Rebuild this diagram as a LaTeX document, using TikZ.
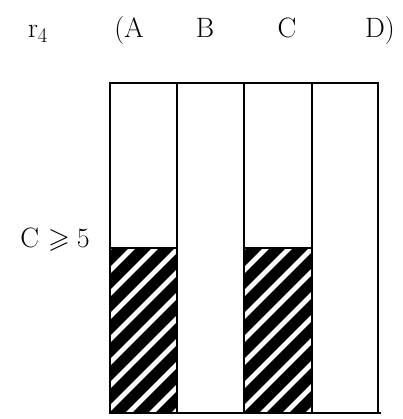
\documentclass[tikz,border=0pt]{standalone}
\usepackage{amssymb}
\begin{document}
\begin{tikzpicture}[x=1pt,y=-1pt,
  lbl/.style={inner sep=0pt,anchor=base,font=\fontsize{28}{32}\selectfont},
  frame/.style={line width=2.4pt,line cap=rect},
  hatch/.style={line width=11pt}]
\useasboundingbox (0,0) rectangle (402,419);
% header labels
\node[lbl] (r) at (38,38) {r$_4$};
\node[lbl] (a) at (129,38) {(A};
\node[lbl] (b) at (205,38) {B};
\node[lbl] (c) at (287,38) {C};
\node[lbl] (d) at (380,38) {D)};
\node[lbl] (cond) at (55,247) {C\hspace{9pt}$\geqslant$\hspace{7pt}5};
% hatched fills
\foreach \xl/\xr in {110/177,244/312}{
  \begin{scope}
    \clip (\xl,248) rectangle (\xr,413);
    \foreach \k in {-10,...,6}
      \draw[hatch] (\xl+\k*23,420) -- ++(220,-220);
  \end{scope}
  \draw[frame] (\xl,248) -- (\xr,248);
}
% columns
\draw[frame] (110,413) -- (110,83) -- (378,83) -- (378,413);
\draw[frame] (177,83) -- (177,413);
\draw[frame] (244,83) -- (244,413);
\draw[frame] (312,83) -- (312,413);
\draw[frame] (110,413) -- (380,413);
\end{tikzpicture}
\end{document}
